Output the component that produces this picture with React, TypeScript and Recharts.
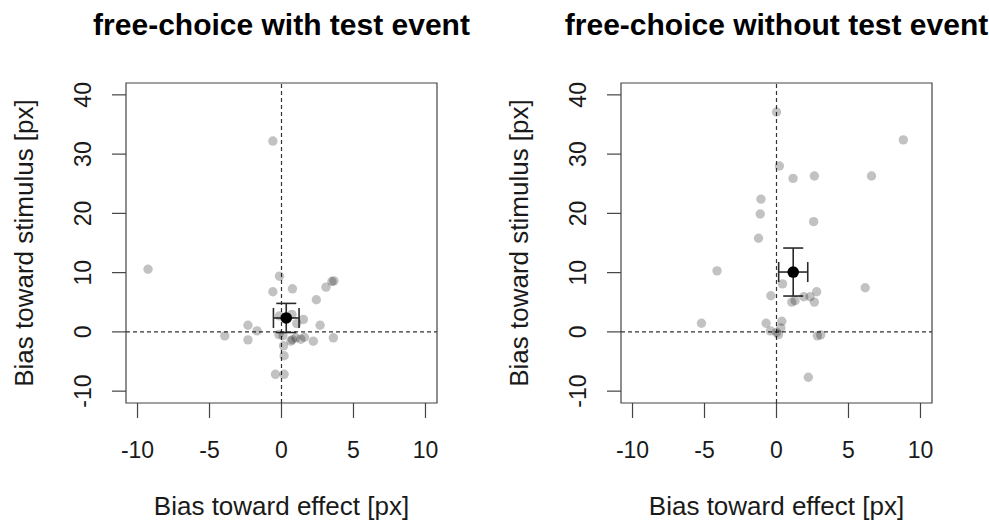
import React from "react";
import {
  ScatterChart,
  Scatter,
  XAxis,
  YAxis,
  ReferenceLine,
  ReferenceArea,
  ErrorBar,
} from "recharts";

// ---- data ----
const xTicks = [-10, -5, 0, 5, 10];
const yTicks = [-10, 0, 10, 20, 30, 40];

const withX = [-0.6, -9.27, -0.14, -0.6, 0.76, 3.09, 3.5, 3.64, 2.42, 0.72, -0.14, 1.52, 1.06, 2.68, -2.33, -1.7, -3.94, -2.33, -0.18, 0.1, 0.65, 0.75, 0.99, 1.34, 1.59, 2.21, 3.6, 0.14, 0.18, -0.42, 0.18];
const withY = [32.2, 10.57, 9.4, 6.77, 7.27, 7.55, 8.5, 8.6, 5.42, 2.96, 2.7, 2.1, 1.4, 1.12, 1.12, 0.17, -0.67, -1.34, -0.45, -0.65, -1.55, -1.3, -1.0, -1.23, -0.9, -1.57, -1.0, -2.35, -4.03, -7.16, -7.16];
const withMean = { x: 0.33, y: 2.35, ex: 0.89, ey: 2.46 };

const withoutX = [0, 8.81, 0.2, 1.15, 2.63, 6.6, -1.08, -1.13, 2.58, -1.25, -4.13, 0.42, 6.16, 2.79, -0.39, 1.89, 2.33, 2.63, 1.06, 1.29, -5.21, -0.72, 0.37, 0.3, -0.42, 0, 0.14, 2.84, 3.07, 2.21];
const withoutY = [37.1, 32.4, 28.0, 25.9, 26.3, 26.3, 22.4, 19.9, 18.6, 15.8, 10.3, 8.1, 7.44, 6.77, 6.1, 5.93, 5.93, 5.03, 5.03, 5.26, 1.45, 1.45, 1.79, 0.67, 0.17, -0.1, -0.45, -0.67, -0.5, -7.66];
const withoutMean = { x: 1.16, y: 10.1, ex: 1.01, ey: 4.05 };

const FONT = "'Liberation Sans', Arial, Helvetica, sans-serif";

const zip = (xs: number[], ys: number[]) => xs.map((x, i) => ({ x, y: ys[i] }));

const XTick = (props: any) => {
  const { x, y, payload } = props;
  return (
    <text x={x} y={y} dy={40} textAnchor="middle" fontSize={23} fill="#1a1a1a" fontFamily={FONT}>
      {payload.value}
    </text>
  );
};

const YTick = (props: any) => {
  const { x, y, payload } = props;
  const bx = x - 21;
  return (
    <text
      x={bx}
      y={y}
      transform={`rotate(-90, ${bx}, ${y})`}
      textAnchor="middle"
      fontSize={23}
      fill="#1a1a1a"
      fontFamily={FONT}
    >
      {payload.value}
    </text>
  );
};

const Dot = (props: any) => (
  <circle cx={props.cx} cy={props.cy} r={4.7} fill="#000" fillOpacity={0.24} />
);
const MeanDot = (props: any) => <circle cx={props.cx} cy={props.cy} r={5.8} fill="#000" />;

const Panel = ({ title, pts, mean }: { title: string; pts: { x: number; y: number }[]; mean: any }) => (
  <ScatterChart width={494} height={524} margin={{ top: 83, right: 57, bottom: 0, left: 0 }}>
    <XAxis
      type="number"
      dataKey="x"
      domain={[-10.8, 10.8]}
      ticks={xTicks}
      allowDataOverflow
      height={121}
      tickSize={15}
      tickMargin={0}
      axisLine={false}
      tickLine={{ stroke: "#444", strokeWidth: 1.2 }}
      tick={<XTick />}
      interval={0}
    />
    <YAxis
      type="number"
      dataKey="y"
      domain={[-12, 42]}
      ticks={yTicks}
      allowDataOverflow
      width={126}
      tickSize={14}
      tickMargin={0}
      axisLine={false}
      tickLine={{ stroke: "#444", strokeWidth: 1.2 }}
      tick={<YTick />}
      interval={0}
    />
    <ReferenceArea x1={-10.8} x2={10.8} y1={-12} y2={42} fill="none" stroke="#444" strokeWidth={1.2} fillOpacity={0} />
    <ReferenceLine x={0} stroke="#333" strokeDasharray="4 3" strokeWidth={1.2} />
    <ReferenceLine y={0} stroke="#333" strokeDasharray="4 3" strokeWidth={1.2} />
    <Scatter data={pts} shape={<Dot />} isAnimationActive={false} />
    <Scatter data={[mean]} shape={<MeanDot />} isAnimationActive={false}>
      <ErrorBar dataKey="ex" direction="x" width={10} stroke="#2a2a2a" strokeWidth={1.6} />
      <ErrorBar dataKey="ey" direction="y" width={10} stroke="#2a2a2a" strokeWidth={1.6} />
    </Scatter>
    <text x={281.5} y={35} textAnchor="middle" fontSize={30} fontWeight="bold" fill="#000" fontFamily={FONT}>
      {title}
    </text>
    <text x={281.5} y={515} textAnchor="middle" fontSize={26} fill="#1a1a1a" fontFamily={FONT}>
      Bias toward effect [px]
    </text>
    <text x={33} y={243} transform="rotate(-90, 33, 243)" textAnchor="middle" fontSize={26} fill="#1a1a1a" fontFamily={FONT}>
      Bias toward stimulus [px]
    </text>
  </ScatterChart>
);

export default function App() {
  return (
    <div style={{ position: "absolute", left: 0, top: 0, width: 989, height: 524, background: "#fff", overflow: "hidden" }}>
      <div style={{ position: "absolute", left: 0, top: 0 }}>
        <Panel title="free-choice with test event" pts={zip(withX, withY)} mean={withMean} />
      </div>
      <div style={{ position: "absolute", left: 495, top: 0 }}>
        <Panel title="free-choice without test event" pts={zip(withoutX, withoutY)} mean={withoutMean} />
      </div>
    </div>
  );
}
